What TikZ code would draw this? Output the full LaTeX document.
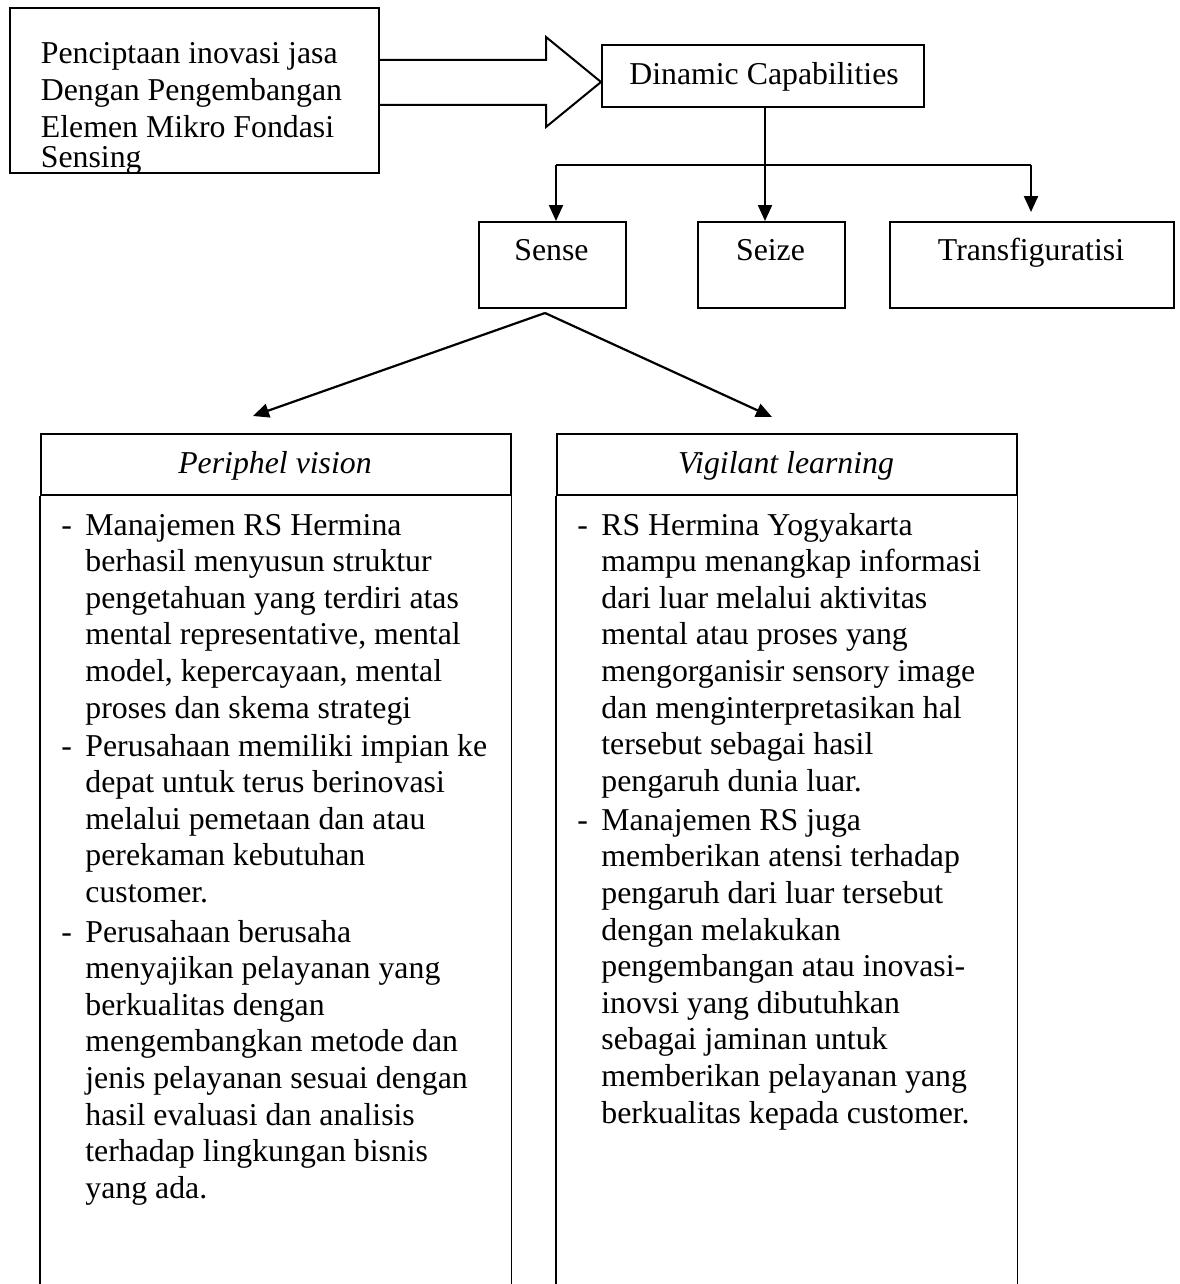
\documentclass[tikz,border=0pt]{standalone}
\usepackage{fontspec}
\setmainfont{Liberation Serif}
\usetikzlibrary{arrows.meta}
\newcommand\diagfont{\fontsize{15.9pt}{18.3pt}\selectfont}
\newcommand\Itm[1]{\hbox{\makebox[12pt][l]{-}#1}}
\newcommand\Cnt[1]{\hbox{\hspace*{12pt}#1}}
\begin{document}
\begin{tikzpicture}[x=0.5pt,y=-0.5pt,
  box/.style={draw, line width=0.8pt, rectangle, inner sep=0pt, anchor=north west},
  conn/.style={line width=1.1pt},
  arr/.style={conn, -{Triangle[length=8pt,width=7pt]}},
  txt/.style={inner sep=0pt, anchor=base, font=\diagfont},
  body/.style={inner sep=0pt, anchor=base west, font=\diagfont},
  ]
\useasboundingbox (0,0) rectangle (1179,1284);
\coordinate (bot) at (0,1284);

% top-left box
\node[box, minimum width=184.5pt, minimum height=82.5pt] (A) at (9,7) {};
\node[txt, anchor=base west] (a1) at (40.5,64) {Penciptaan inovasi jasa};
\node[txt, anchor=base west] (a2) at (40.5,100.5) {Dengan Pengembangan};
\node[txt, anchor=base west] (a3) at (40.5,137) {Elemen Mikro Fondasi};
\node[txt, anchor=base west] (a4) at (40.5,167) {Sensing};

% Dinamic Capabilities
\node[box, minimum width=161pt, minimum height=31pt] (DC) at (601,44) {};
\node[txt] (dct) at (764,84) {Dinamic Capabilities};

% block arrow
\coordinate (sT) at (546,60);
\coordinate (sB) at (546,105);
\coordinate (hT) at (546,37);
\coordinate (hB) at (546,127);
\coordinate (tipY) at (0,82);
\draw[line width=1pt, line join=miter] (A.east |- sT) -- (sT) -- (hT) -- (DC.west |- tipY) -- (hB) -- (sB) -- (A.east |- sB);

% Sense, Seize, Transfiguratisi
\node[box, minimum width=73.5pt, minimum height=43pt] (Sense) at (478,221) {};
\node[txt] (senset) at (551.5,260) {Sense};
\node[box, minimum width=73.5pt, minimum height=43pt] (Seize) at (697,221) {};
\node[txt] (seizet) at (770.5,260) {Seize};
\node[box, minimum width=142pt, minimum height=43pt] (Tr) at (889,221) {};
\node[txt] (trt) at (1031,260) {Transfiguratisi};

% tree connectors
\coordinate (bar) at (765,165);
\coordinate (bL) at (556,165);
\coordinate (bR) at (1031,165);
\coordinate (trTip) at (1031,212);
\draw[conn] (bar |- DC.south) -- (bar);
\draw[conn] (bL) -- (bR);
\draw[arr] (bL) -- (bL |- Sense.north);
\draw[arr] (bar) -- (bar |- Seize.north);
\draw[arr] (bR) -- (trTip);

% Sense split arrows
\coordinate (apex) at (545,313);
\coordinate (pvTip) at (253,416);
\coordinate (vlTip) at (772,417);
\draw[arr] (apex) -- (pvTip);
\draw[arr] (apex) -- (vlTip);

% bottom boxes
\node[box, minimum width=235pt, minimum height=30.5pt] (PV) at (40,433) {};
\node[txt, font=\diagfont\itshape] (pvt) at (275,473) {Periphel vision};
\draw[line width=0.8pt] (PV.south west) -- (PV.south west |- bot);
\draw[line width=0.8pt] (PV.south east) -- (PV.south east |- bot);

\node[box, minimum width=230pt, minimum height=30.5pt] (VL) at (556,433) {};
\node[txt, font=\diagfont\itshape] (vlt) at (786,473) {Vigilant learning};
\draw[line width=0.8pt] (VL.south west) -- (VL.south west |- bot);
\draw[line width=0.8pt] (VL.south east) -- (VL.south east |- bot);

\node[body] (pvb) at (61,535) {\vtop{%
\Itm{Manajemen RS Hermina}
\Cnt{berhasil menyusun struktur}
\Cnt{pengetahuan yang terdiri atas}
\Cnt{mental representative, mental}
\Cnt{model, kepercayaan, mental}
\Cnt{proses dan skema strategi}
\vskip 0.7pt
\Itm{Perusahaan memiliki impian ke}
\Cnt{depat untuk terus berinovasi}
\Cnt{melalui pemetaan dan atau}
\Cnt{perekaman kebutuhan}
\Cnt{customer.}
\vskip 1.5pt
\Itm{Perusahaan berusaha}
\Cnt{menyajikan pelayanan yang}
\Cnt{berkualitas dengan}
\Cnt{mengembangkan metode dan}
\Cnt{jenis pelayanan sesuai dengan}
\Cnt{hasil evaluasi dan analisis}
\Cnt{terhadap lingkungan bisnis}
\Cnt{yang ada.}}};

\node[body] (vlb) at (577,535) {\vtop{%
\Itm{RS Hermina Yogyakarta}
\Cnt{mampu menangkap informasi}
\Cnt{dari luar melalui aktivitas}
\Cnt{mental atau proses yang}
\Cnt{mengorganisir sensory image}
\Cnt{dan menginterpretasikan hal}
\Cnt{tersebut sebagai hasil}
\Cnt{pengaruh dunia luar.}
\vskip 1.2pt
\Itm{Manajemen RS juga}
\Cnt{memberikan atensi terhadap}
\Cnt{pengaruh dari luar tersebut}
\Cnt{dengan melakukan}
\Cnt{pengembangan atau inovasi-}
\Cnt{inovsi yang dibutuhkan}
\Cnt{sebagai jaminan untuk}
\Cnt{memberikan pelayanan yang}
\Cnt{berkualitas kepada customer.}}};
\end{tikzpicture}
\end{document}
